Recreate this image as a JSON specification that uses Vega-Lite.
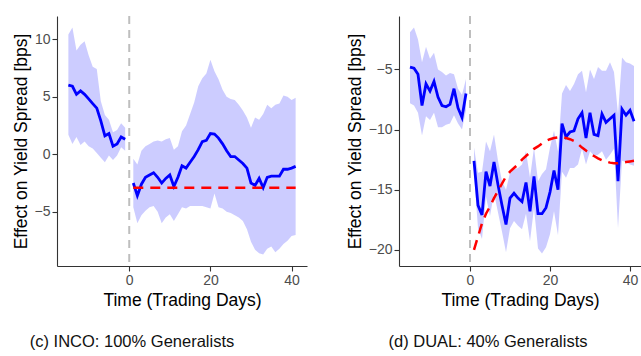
{
  "$schema": "https://vega.github.io/schema/vega-lite/v6.json",
  "padding": {"left": 12, "top": 15, "right": 0, "bottom": 0},
  "spacing": 39,
  "config": {
    "font": "Liberation Sans",
    "view": {"stroke": null},
    "axis": {"grid": false, "domainColor": "#333333", "domainWidth": 1.1, "tickColor": "#333333", "tickWidth": 1.1, "tickSize": 5, "labelColor": "#4D4D4D", "labelFontSize": 14, "labelPadding": 2, "titleFontSize": 17.5, "titleFontWeight": "normal", "titleColor": "#000000", "titlePadding": 4, "labelFont": "Liberation Sans", "titleFont": "Liberation Sans"},
    "title": {"fontSize": 16.5, "fontWeight": "normal", "font": "Liberation Sans", "color": "#111111"}
  },
  "datasets": {
    "inco": [
      {"t": -15, "period": "pre", "est": 6.0, "lo": 1.7, "hi": 10.4},
      {"t": -14, "period": "pre", "est": 5.9, "lo": 0.9, "hi": 11.0},
      {"t": -13, "period": "pre", "est": 5.2, "lo": 1.5, "hi": 9.0},
      {"t": -12, "period": "pre", "est": 5.5, "lo": 0.8, "hi": 9.5},
      {"t": -11, "period": "pre", "est": 5.2, "lo": 1.1, "hi": 9.8},
      {"t": -10, "period": "pre", "est": 4.8, "lo": 0.7, "hi": 8.6},
      {"t": -9, "period": "pre", "est": 4.4, "lo": 0.5, "hi": 7.6},
      {"t": -8, "period": "pre", "est": 4.0, "lo": 0.1, "hi": 7.4},
      {"t": -7, "period": "pre", "est": 2.9, "lo": -0.3, "hi": 4.6},
      {"t": -6, "period": "pre", "est": 1.6, "lo": -0.7, "hi": 3.4},
      {"t": -5, "period": "pre", "est": 1.8, "lo": -0.1, "hi": 3.0},
      {"t": -4, "period": "pre", "est": 0.7, "lo": -0.5, "hi": 1.9},
      {"t": -3, "period": "pre", "est": 0.9, "lo": -0.1, "hi": 2.1},
      {"t": -2, "period": "pre", "est": 1.5, "lo": 0.6, "hi": 2.7},
      {"t": -1, "period": "pre", "est": 1.3, "lo": 0.3, "hi": 2.3},
      {"t": 1, "period": "post", "est": -2.5, "lo": -4.6, "hi": -0.4, "fit": -2.9},
      {"t": 2, "period": "post", "est": -3.6, "lo": -6.0, "hi": -0.9, "fit": -2.9},
      {"t": 3, "period": "post", "est": -2.6, "lo": -5.3, "hi": 0.3, "fit": -2.9},
      {"t": 4, "period": "post", "est": -2.0, "lo": -4.9, "hi": 0.7, "fit": -2.9},
      {"t": 5, "period": "post", "est": -1.8, "lo": -4.6, "hi": 0.9, "fit": -2.9},
      {"t": 6, "period": "post", "est": -1.6, "lo": -4.5, "hi": 1.1, "fit": -2.9},
      {"t": 7, "period": "post", "est": -2.0, "lo": -5.0, "hi": 1.2, "fit": -2.9},
      {"t": 8, "period": "post", "est": -2.5, "lo": -6.0, "hi": 1.1, "fit": -2.9},
      {"t": 9, "period": "post", "est": -2.1, "lo": -5.5, "hi": 1.3, "fit": -2.9},
      {"t": 10, "period": "post", "est": -1.8, "lo": -5.2, "hi": 1.4, "fit": -2.9},
      {"t": 11, "period": "post", "est": -2.8, "lo": -5.8, "hi": 0.4, "fit": -2.9},
      {"t": 12, "period": "post", "est": -2.0, "lo": -5.2, "hi": 0.7, "fit": -2.9},
      {"t": 13, "period": "post", "est": -1.0, "lo": -4.6, "hi": 2.0, "fit": -2.9},
      {"t": 14, "period": "post", "est": -1.2, "lo": -4.7, "hi": 2.5, "fit": -2.9},
      {"t": 15, "period": "post", "est": -0.7, "lo": -4.5, "hi": 3.5, "fit": -2.9},
      {"t": 16, "period": "post", "est": -0.2, "lo": -4.5, "hi": 4.5, "fit": -2.9},
      {"t": 17, "period": "post", "est": 0.4, "lo": -4.5, "hi": 5.9, "fit": -2.9},
      {"t": 18, "period": "post", "est": 1.1, "lo": -4.5, "hi": 6.6, "fit": -2.9},
      {"t": 19, "period": "post", "est": 1.2, "lo": -4.6, "hi": 7.0, "fit": -2.9},
      {"t": 20, "period": "post", "est": 1.8, "lo": -4.7, "hi": 8.2, "fit": -2.9},
      {"t": 21, "period": "post", "est": 1.75, "lo": -3.4, "hi": 7.2, "fit": -2.9},
      {"t": 22, "period": "post", "est": 1.4, "lo": -4.6, "hi": 6.5, "fit": -2.9},
      {"t": 23, "period": "post", "est": 0.9, "lo": -4.7, "hi": 5.6, "fit": -2.9},
      {"t": 24, "period": "post", "est": 0.3, "lo": -5.0, "hi": 5.0, "fit": -2.9},
      {"t": 25, "period": "post", "est": -0.2, "lo": -5.1, "hi": 4.8, "fit": -2.9},
      {"t": 26, "period": "post", "est": -0.2, "lo": -5.3, "hi": 4.7, "fit": -2.9},
      {"t": 27, "period": "post", "est": -0.5, "lo": -5.5, "hi": 4.3, "fit": -2.9},
      {"t": 28, "period": "post", "est": -0.8, "lo": -5.8, "hi": 3.8, "fit": -2.9},
      {"t": 29, "period": "post", "est": -1.2, "lo": -6.5, "hi": 3.2, "fit": -2.9},
      {"t": 30, "period": "post", "est": -2.5, "lo": -7.6, "hi": 2.3, "fit": -2.9},
      {"t": 31, "period": "post", "est": -2.7, "lo": -8.3, "hi": 3.2, "fit": -2.9},
      {"t": 32, "period": "post", "est": -2.1, "lo": -8.6, "hi": 3.0, "fit": -2.9},
      {"t": 33, "period": "post", "est": -2.9, "lo": -8.7, "hi": 3.5, "fit": -2.9},
      {"t": 34, "period": "post", "est": -2.0, "lo": -8.2, "hi": 4.3, "fit": -2.9},
      {"t": 35, "period": "post", "est": -1.9, "lo": -8.0, "hi": 4.0, "fit": -2.9},
      {"t": 36, "period": "post", "est": -1.9, "lo": -8.5, "hi": 4.3, "fit": -2.9},
      {"t": 37, "period": "post", "est": -1.9, "lo": -8.2, "hi": 4.4, "fit": -2.9},
      {"t": 38, "period": "post", "est": -1.3, "lo": -7.8, "hi": 5.1, "fit": -2.9},
      {"t": 39, "period": "post", "est": -1.3, "lo": -7.5, "hi": 5.0, "fit": -2.9},
      {"t": 40, "period": "post", "est": -1.2, "lo": -7.1, "hi": 4.7, "fit": -2.9},
      {"t": 41, "period": "post", "est": -1.05, "lo": -7.0, "hi": 4.9, "fit": -2.9}
    ],
    "dual": [
      {"t": -15, "period": "pre", "est": -4.8, "lo": -7.8, "hi": -1.9},
      {"t": -14, "period": "pre", "est": -4.9, "lo": -8.0, "hi": -1.5},
      {"t": -13, "period": "pre", "est": -5.4, "lo": -8.6, "hi": -2.5},
      {"t": -12, "period": "pre", "est": -8.0, "lo": -10.5, "hi": -4.4},
      {"t": -11, "period": "pre", "est": -6.2, "lo": -8.9, "hi": -3.1},
      {"t": -10, "period": "pre", "est": -6.8, "lo": -9.2, "hi": -4.1},
      {"t": -9, "period": "pre", "est": -6.0, "lo": -8.6, "hi": -3.6},
      {"t": -8, "period": "pre", "est": -7.3, "lo": -9.8, "hi": -5.0},
      {"t": -7, "period": "pre", "est": -8.0, "lo": -9.8, "hi": -5.2},
      {"t": -6, "period": "pre", "est": -8.1, "lo": -9.6, "hi": -5.5},
      {"t": -5, "period": "pre", "est": -7.9, "lo": -9.5, "hi": -5.3},
      {"t": -4, "period": "pre", "est": -6.6, "lo": -8.8, "hi": -5.4},
      {"t": -3, "period": "pre", "est": -8.2, "lo": -9.5, "hi": -6.6},
      {"t": -2, "period": "pre", "est": -9.0, "lo": -10.0, "hi": -7.1},
      {"t": -1, "period": "pre", "est": -7.0, "lo": -8.4, "hi": -5.8},
      {"t": 1, "period": "post", "est": -12.6, "lo": -13.7, "hi": -11.5, "fit": -20.0},
      {"t": 2, "period": "post", "est": -16.3, "lo": -18.2, "hi": -13.6, "fit": -18.9},
      {"t": 3, "period": "post", "est": -17.1, "lo": -19.1, "hi": -13.5, "fit": -17.8},
      {"t": 4, "period": "post", "est": -13.5, "lo": -15.6, "hi": -11.0, "fit": -17.0},
      {"t": 5, "period": "post", "est": -14.7, "lo": -17.2, "hi": -11.8, "fit": -16.4},
      {"t": 6, "period": "post", "est": -12.7, "lo": -15.3, "hi": -10.4, "fit": -15.7},
      {"t": 7, "period": "post", "est": -14.6, "lo": -16.9, "hi": -12.6, "fit": -15.1},
      {"t": 8, "period": "post", "est": -16.3, "lo": -18.5, "hi": -14.3, "fit": -14.5},
      {"t": 9, "period": "post", "est": -17.9, "lo": -20.2, "hi": -15.0, "fit": -13.9},
      {"t": 10, "period": "post", "est": -15.7, "lo": -18.2, "hi": -13.6, "fit": -13.5},
      {"t": 11, "period": "post", "est": -15.3, "lo": -17.6, "hi": -13.3, "fit": -13.2},
      {"t": 12, "period": "post", "est": -15.7, "lo": -18.0, "hi": -13.2, "fit": -12.9},
      {"t": 13, "period": "post", "est": -16.0, "lo": -18.3, "hi": -12.9, "fit": -12.5},
      {"t": 14, "period": "post", "est": -14.4, "lo": -17.0, "hi": -11.8, "fit": -12.2},
      {"t": 15, "period": "post", "est": -16.8, "lo": -19.3, "hi": -14.0, "fit": -11.9},
      {"t": 16, "period": "post", "est": -13.9, "lo": -16.5, "hi": -11.5, "fit": -11.6},
      {"t": 17, "period": "post", "est": -17.0, "lo": -19.9, "hi": -14.3, "fit": -11.4},
      {"t": 18, "period": "post", "est": -17.0, "lo": -20.3, "hi": -13.7, "fit": -11.15},
      {"t": 19, "period": "post", "est": -16.5, "lo": -19.8, "hi": -13.3, "fit": -10.95},
      {"t": 20, "period": "post", "est": -15.2, "lo": -18.7, "hi": -11.5, "fit": -10.8},
      {"t": 21, "period": "post", "est": -13.4, "lo": -16.8, "hi": -10.1, "fit": -10.7},
      {"t": 22, "period": "post", "est": -15.0, "lo": -18.8, "hi": -11.8, "fit": -10.65},
      {"t": 23, "period": "post", "est": -9.5, "lo": -13.5, "hi": -7.0, "fit": -10.65},
      {"t": 24, "period": "post", "est": -10.6, "lo": -14.0, "hi": -6.3, "fit": -10.7},
      {"t": 25, "period": "post", "est": -10.2, "lo": -13.2, "hi": -6.8, "fit": -10.8},
      {"t": 26, "period": "post", "est": -10.1, "lo": -13.2, "hi": -6.2, "fit": -10.95},
      {"t": 27, "period": "post", "est": -9.1, "lo": -12.9, "hi": -5.4, "fit": -11.2},
      {"t": 28, "period": "post", "est": -8.6, "lo": -11.6, "hi": -5.1, "fit": -11.5},
      {"t": 29, "period": "post", "est": -10.7, "lo": -12.9, "hi": -6.9, "fit": -11.75},
      {"t": 30, "period": "post", "est": -8.6, "lo": -11.8, "hi": -5.0, "fit": -12.0},
      {"t": 31, "period": "post", "est": -10.4, "lo": -12.2, "hi": -5.8, "fit": -12.2},
      {"t": 32, "period": "post", "est": -10.5, "lo": -12.1, "hi": -4.8, "fit": -12.4},
      {"t": 33, "period": "post", "est": -8.7, "lo": -11.8, "hi": -5.1, "fit": -12.55},
      {"t": 34, "period": "post", "est": -9.4, "lo": -12.5, "hi": -5.1, "fit": -12.65},
      {"t": 35, "period": "post", "est": -9.1, "lo": -12.1, "hi": -4.4, "fit": -12.75},
      {"t": 36, "period": "post", "est": -8.8, "lo": -11.6, "hi": -5.2, "fit": -12.8},
      {"t": 37, "period": "post", "est": -14.3, "lo": -18.2, "hi": -8.7, "fit": -12.8},
      {"t": 38, "period": "post", "est": -8.3, "lo": -12.6, "hi": -4.0, "fit": -12.75},
      {"t": 39, "period": "post", "est": -8.8, "lo": -12.7, "hi": -4.4, "fit": -12.7},
      {"t": 40, "period": "post", "est": -8.4, "lo": -12.9, "hi": -4.5, "fit": -12.65},
      {"t": 41, "period": "post", "est": -9.3, "lo": -13.0, "hi": -4.7, "fit": -12.6}
    ],
    "zero": [{"t": 0}]
  },
  "hconcat": [
    {
      "width": 250,
      "height": 250,
      "title": {"text": "(c) INCO: 100% Generalists", "orient": "bottom", "anchor": "middle", "frame": "group", "dx": -50, "offset": 25},
      "encoding": {
        "x": {"field": "t", "type": "quantitative", "scale": {"domain": [-17.8, 43.8], "nice": false, "zero": false}, "axis": {"values": [0, 20, 40], "title": "Time (Trading Days)"}}
      },
      "layer": [
        {
          "data": {"name": "inco"},
          "mark": {"type": "area", "color": "#0000FF", "opacity": 0.2},
          "encoding": {
            "y": {"field": "lo", "type": "quantitative", "scale": {"domain": [-9.7, 12.0], "nice": false, "zero": false}, "axis": {"values": [-5, 0, 5, 10], "title": "Effect on Yield Spread [bps]"}},
            "y2": {"field": "hi"},
            "detail": {"field": "period"}
          }
        },
        {
          "data": {"name": "zero"},
          "mark": {"type": "rule", "color": "#BEBEBE", "strokeWidth": 2, "strokeDash": [8, 6]},
          "encoding": {"x": {"field": "t", "type": "quantitative"}}
        },
        {
          "data": {"name": "inco"},
          "mark": {"type": "line", "color": "#0000FF", "strokeWidth": 2.8},
          "encoding": {
            "y": {"field": "est", "type": "quantitative"},
            "detail": {"field": "period"}
          }
        },
        {
          "data": {"name": "inco"},
          "mark": {"type": "line", "color": "#FF0000", "strokeWidth": 2.5, "strokeDash": [10, 7]},
          "encoding": {
            "y": {"field": "fit", "type": "quantitative"}
          }
        }
      ]
    },
    {
      "width": 242,
      "height": 250,
      "title": {"text": "(d) DUAL: 40% Generalists", "orient": "bottom", "anchor": "middle", "frame": "group", "dx": -32, "offset": 25},
      "encoding": {
        "x": {"field": "t", "type": "quantitative", "scale": {"domain": [-17.75, 42.75], "nice": false, "zero": false}, "axis": {"values": [0, 20, 40], "title": "Time (Trading Days)"}}
      },
      "layer": [
        {
          "data": {"name": "dual"},
          "mark": {"type": "area", "color": "#0000FF", "opacity": 0.2},
          "encoding": {
            "y": {"field": "lo", "type": "quantitative", "scale": {"domain": [-21.35, -0.55], "nice": false, "zero": false}, "axis": {"values": [-20, -15, -10, -5], "title": "Effect on Yield Spread [bps]"}},
            "y2": {"field": "hi"},
            "detail": {"field": "period"}
          }
        },
        {
          "data": {"name": "zero"},
          "mark": {"type": "rule", "color": "#BEBEBE", "strokeWidth": 2, "strokeDash": [8, 6]},
          "encoding": {"x": {"field": "t", "type": "quantitative"}}
        },
        {
          "data": {"name": "dual"},
          "mark": {"type": "line", "color": "#0000FF", "strokeWidth": 2.8},
          "encoding": {
            "y": {"field": "est", "type": "quantitative"},
            "detail": {"field": "period"}
          }
        },
        {
          "data": {"name": "dual"},
          "mark": {"type": "line", "color": "#FF0000", "strokeWidth": 2.5, "strokeDash": [10, 7]},
          "encoding": {
            "y": {"field": "fit", "type": "quantitative"}
          }
        }
      ]
    }
  ]
}
